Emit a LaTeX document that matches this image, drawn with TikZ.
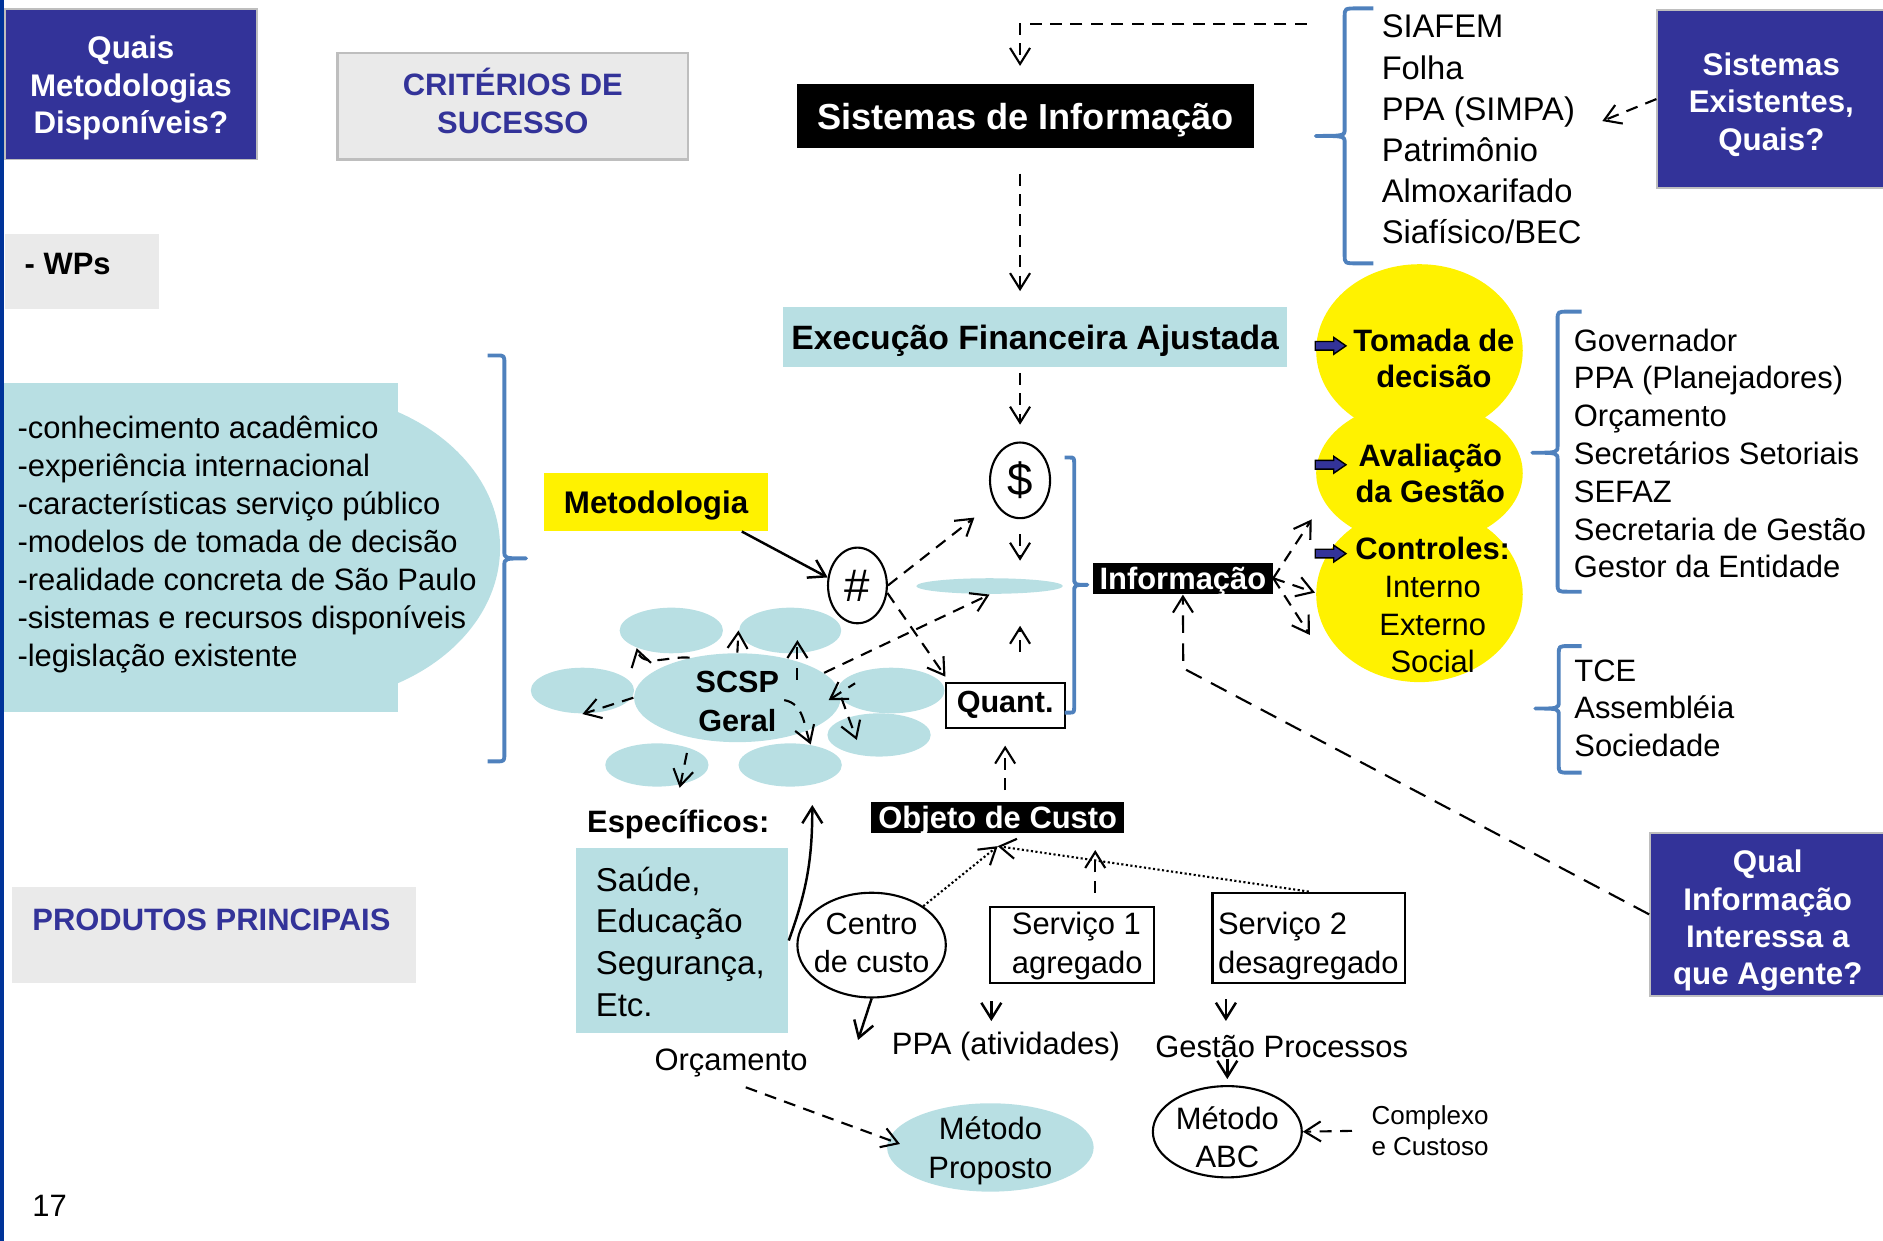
\documentclass[tikz,border=0pt]{standalone}
\usepackage{fontspec}
\setmainfont{Liberation Sans}
\usetikzlibrary{arrows.meta,shapes.geometric}

\definecolor{navy}{RGB}{51,51,153}
\definecolor{barblue}{RGB}{0,51,153}
\definecolor{palegray}{RGB}{234,234,234}
\definecolor{framegray}{RGB}{190,190,190}
\definecolor{paleblue}{RGB}{184,223,227}
\definecolor{braceblue}{RGB}{79,129,189}

\newcommand{\pxu}{0.12009mm}
\newcommand{\fsz}[2]{\fontsize{#1}{#2}\selectfont}

\tikzset{
  txt/.style={inner sep=0pt, text depth=0pt, align=left, font=\fsz{8.8}{10.8}},
  btxt/.style={inner sep=0pt, text depth=0pt, align=center, font=\bfseries\fsz{8.8}{10.8}},
  navybox/.style={fill=navy, draw=framegray, line width=0.5pt, inner sep=0pt},
  wtxt/.style={btxt, text=white, font=\bfseries\fsz{8.9}{10.7}},
  graybox/.style={fill=palegray, inner sep=0pt},
  blackbox/.style={fill=black, text=white, inner sep=0pt, text depth=0pt, font=\bfseries\fsz{8.8}{10.8}},
  blob/.style={ellipse, fill=paleblue, inner sep=0pt},
  ring/.style={ellipse, draw=black, line width=0.6pt, fill=white, inner sep=0pt},
  whitebox/.style={draw=black, line width=0.6pt, fill=white, inner sep=0pt, text depth=0pt},
  barbtip/.style={-{Straight Barb[length=1.6mm,width=2mm]}},
  linearrow/.style={barbtip, line width=0.7pt},
  dasharrow/.style={barbtip, line width=0.6pt, dash pattern=on 3.4pt off 2.4pt},
  dotarrow/.style={barbtip, line width=0.6pt, dash pattern=on 0.6pt off 0.7pt},
  bracepen/.style={draw=braceblue, line width=1.1pt, line join=round}
}

% brace: spine x, top y, tip y, bottom y, hook dx, tip dx
\newcommand{\sidebrace}[6]{%
  \draw[bracepen] ({#1+#5},#2) -- ({#1+0.45*#5},#2) .. controls (#1,#2) .. (#1,{#2+7})
    -- (#1,{#3-6}) .. controls (#1,#3) .. ({#1+#6},#3)
    .. controls (#1,#3) .. (#1,{#3+6})
    -- (#1,{#4-7}) .. controls (#1,#4) .. ({#1+0.45*#5},#4) -- ({#1+#5},#4);}

% block arrow pointing right, centred at x,y
\newcommand{\pointer}[2]{%
  \filldraw[fill=navy, draw=black, line width=0.4pt] ({#1-12.8},{#2-3.6}) -- ({#1+2.6},{#2-3.6})
    -- ({#1+2.6},{#2-7}) -- ({#1+12.8},#2) -- ({#1+2.6},{#2+7}) -- ({#1+2.6},{#2+3.6})
    -- ({#1-12.8},{#2+3.6}) -- cycle;}

\begin{document}
\begin{tikzpicture}[x=0.12009mm, y=-0.12009mm]
\useasboundingbox (0,0) rectangle (1568,1033);

% left margin bar
\fill[barblue] (0,0) rectangle (3.5,1033);

% boxes on the left
\node[navybox, minimum width=210*\pxu, minimum height=125*\pxu] (quais) at (109,70.3) {};
\node[wtxt] (quaistxt) at (109,70.6) {Quais\\Metodologias\\Disponíveis?};
\node[graybox, draw=framegray, line width=0.7pt, minimum width=291.7*\pxu, minimum height=88.3*\pxu] (crit) at (427,88.5) {};
\node[btxt, text=navy, font=\bfseries\fsz{8.8}{10.9}] (crittxt) at (427,84) {CRITÉRIOS DE\\SUCESSO};
\node[graybox, minimum width=129*\pxu, minimum height=62*\pxu] (wpsbox) at (68.3,225.9) {};
\node[btxt, anchor=west] (wps) at (20,219.8) {- WPs};
\node[graybox, minimum width=336.4*\pxu, minimum height=79.4*\pxu] (prodbox) at (178.2,778.6) {};
\node[btxt, anchor=west, text=navy] (prod) at (26.4,765.5) {PRODUTOS PRINCIPAIS};
\node[txt, anchor=west] (page) at (26.4,1004) {17};

% sources of the methodology
\fill[paleblue] (3.5,319) rectangle (331,593);
\fill[paleblue] (250,456) ellipse [x radius=166.4, y radius=129.4];
\node[txt, anchor=west] (sources) at (14,451) {-conhecimento acadêmico\\-experiência internacional\\-características serviço público\\-modelos de tomada de decisão\\-realidade concreta de São Paulo\\-sistemas e recursos disponíveis\\-legislação existente};
\sidebrace{420}{296}{465}{634}{-14}{18}

% central column
\node[blackbox, font=\bfseries\fsz{10.3}{12}, minimum width=381*\pxu, minimum height=53*\pxu] (sis) at (854,96.5) {Sistemas de Informação};
\node[fill=paleblue, inner sep=0pt, text depth=0pt, font=\bfseries\fsz{9.6}{11}, minimum width=420*\pxu, minimum height=50*\pxu] (exec) at (862,281) {Execução Financeira Ajustada};
\node[ring, font=\fsz{13}{15}, minimum width=50*\pxu, minimum height=63*\pxu] (dollar) at (849.4,400) {\$};
\node[blob, minimum width=122*\pxu, minimum height=13*\pxu] (flat) at (824,488) {};
\node[whitebox, minimum width=99*\pxu, minimum height=38*\pxu] (quant) at (837,587.5) {};
\node[btxt, font=\bfseries\fsz{8.7}{10}] (quanttxt) at (837,584.5) {Quant.};
\node[ring, font=\fsz{13}{15}, minimum width=49*\pxu, minimum height=63*\pxu] (hash) at (714,487.5) {\#};
\node[fill=yellow, inner sep=0pt, text depth=0pt, font=\bfseries\fsz{8.9}{10}, minimum width=186.5*\pxu, minimum height=48*\pxu] (metod) at (546.3,418) {Metodologia};
\sidebrace{894.5}{381}{487}{593.4}{-8}{11}
\node[blackbox, minimum width=149.3*\pxu, minimum height=26.1*\pxu] (info) at (985,481.5) {Informação};

% SCSP and the areas round it
\node[blob, minimum width=86*\pxu, minimum height=38*\pxu] (tl) at (559,525) {};
\node[blob, minimum width=85*\pxu, minimum height=38*\pxu] (tr) at (658,525) {};
\node[blob, minimum width=86*\pxu, minimum height=38*\pxu] (lf) at (485,575) {};
\node[blob, minimum width=89*\pxu, minimum height=38*\pxu] (ru) at (742,575) {};
\node[blob, minimum width=86*\pxu, minimum height=36*\pxu] (rl) at (732,612) {};
\node[blob, minimum width=86*\pxu, minimum height=36*\pxu] (bl) at (547,637) {};
\node[blob, minimum width=86*\pxu, minimum height=36*\pxu] (br) at (658,637) {};
\node[blob, minimum width=172*\pxu, minimum height=74*\pxu] (scsp) at (614,581) {};
\node[btxt, font=\bfseries\fsz{8.7}{10.9}] (scsptxt) at (614,584) {SCSP\\Geral};

% specific areas and cost objects
\node[btxt] (espec) at (564.8,684) {Específicos:};
\node[fill=paleblue, inner sep=0pt, minimum width=176.6*\pxu, minimum height=153.6*\pxu] (saudebox) at (567.9,783.2) {};
\node[txt, anchor=west, font=\fsz{9.4}{11.85}] (saude) at (495.5,784) {Saúde,\\Educação\\Segurança,\\Etc.};
\node[txt] (orc) at (608.8,882.7) {Orçamento};
\node[blackbox, minimum width=210.5*\pxu, minimum height=26.4*\pxu] (objeto) at (830.8,680.8) {Objeto de Custo};
\node[ring, minimum width=123.6*\pxu, minimum height=87.2*\pxu] (centro) at (725.8,787) {};
\node[txt, align=center, font=\fsz{8.7}{10.9}] (centrotxt) at (725.8,785) {Centro\\de custo};
\node[whitebox, minimum width=136.5*\pxu, minimum height=62.8*\pxu] (serv1) at (892.8,786.9) {};
\node[txt, font=\fsz{8.8}{10.9}, anchor=west] (serv1txt) at (842,785) {Serviço 1\\agregado};
\node[whitebox, minimum width=160.4*\pxu, minimum height=75*\pxu] (serv2) at (1089.8,780.8) {};
\node[txt, font=\fsz{8.8}{10.9}, anchor=west] (serv2txt) at (1013.7,785) {Serviço 2\\desagregado};
\node[txt] (ppa) at (837.7,868.8) {PPA (atividades)};
\node[txt] (gestao) at (1067.3,871.6) {Gestão Processos};
\node[blob, minimum width=172*\pxu, minimum height=73.6*\pxu] (proposto) at (824.7,955.5) {};
\node[txt, align=center, font=\fsz{8.8}{11.1}] (propostotxt) at (824.7,955.3) {Método\\Proposto};
\node[ring, minimum width=124*\pxu, minimum height=76*\pxu] (abc) at (1022,942.4) {};
\node[txt, align=center, font=\fsz{8.8}{10.9}] (abctxt) at (1022,947) {Método\\ABC};
\node[txt, anchor=west, font=\fsz{7.4}{8.8}] (complexo) at (1141.5,941.4) {Complexo\\e Custoso};

% users of the information
\fill[yellow] (1182,292) ellipse [x radius=86, y radius=72];
\fill[yellow] (1182,394) ellipse [x radius=86, y radius=60];
\fill[yellow] (1182,495) ellipse [x radius=86, y radius=73];
\node[btxt, font=\bfseries\fsz{8.8}{10.45}] (tomada) at (1194,298.4) {Tomada de\\decisão};
\node[btxt, font=\bfseries\fsz{8.8}{10.4}] (aval) at (1191,394.2) {Avaliação\\da Gestão};
\node[txt, align=center, font=\fsz{8.8}{10.75}] (contr) at (1193,503.8) {\textbf{Controles:}\\Interno\\Externo\\Social};
\pointer{1108}{288}
\pointer{1108}{387}
\pointer{1108}{461}

% lists on the right
\node[txt, anchor=west, font=\fsz{9.3}{11.68}] (syslist) at (1150,107.6) {SIAFEM\\Folha\\PPA (SIMPA)\\Patrimônio\\Almoxarifado\\Siafísico/BEC};
\sidebrace{1119.7}{7}{113.2}{219.3}{24}{-24}
\node[txt, anchor=west, font=\fsz{8.8}{10.75}] (agents) at (1310,377.5) {Governador\\PPA (Planejadores)\\Orçamento\\Secretários Setoriais\\SEFAZ\\Secretaria de Gestão\\Gestor da Entidade};
\sidebrace{1297}{259.5}{377}{492.7}{20}{-21}
\node[txt, anchor=west, font=\fsz{8.8}{10.65}] (ctrllist) at (1310.4,589.4) {TCE\\Assembléia\\Sociedade};
\sidebrace{1298}{538}{590}{643.4}{19}{-19.5}
\node[navybox, minimum width=190*\pxu, minimum height=148.5*\pxu] (sisex) at (1475,82.5) {};
\node[wtxt, font=\bfseries\fsz{8.9}{10.67}] (sisextxt) at (1475,84.5) {Sistemas\\Existentes,\\Quais?};
\node[navybox, minimum width=196*\pxu, minimum height=136*\pxu] (qual) at (1472,761.4) {};
\node[wtxt, font=\bfseries\fsz{8.9}{10.6}] (qualtxt) at (1472,764) {Qual\\Informação\\Interessa a\\que Agente?};

% free ends and bends
\coordinate (sysin) at (1088,20);
\coordinate (ocin) at ([yshift=-10*\pxu]objeto.south);
\coordinate (s1up) at (912,743.3);
\coordinate (ccdown) at (714.5,866);
\coordinate (orcout) at (621,905.4);
\coordinate (propin) at (749.4,952.6);
\coordinate (saudeup) at (676.4,670.3);
\coordinate (qbend) at (985.3,556.5);
\coordinate (y1) at (1092.3,432.5);
\coordinate (y2) at (1095,493.5);
\coordinate (y3) at (1090.8,528.8);
\coordinate (g1) at (664,566);
\coordinate (g2) at (653,583);
\coordinate (g3) at (690,583);
\coordinate (g4) at (712,569);
\coordinate (g5) at (713.5,616.2);
\coordinate (g6) at (572,627);

% flow down the centre
\draw[dasharrow, shorten >=14.5*\pxu] (sysin) -| (sis.north -| dollar);
\draw[dasharrow, shorten <=21*\pxu, shorten >=13*\pxu] (sis.south -| dollar) -- (exec.north -| dollar);
\draw[dasharrow, shorten <=4*\pxu, shorten >=14*\pxu] (exec.south -| dollar) -- (dollar.north);
\draw[dasharrow, shorten <=12.5*\pxu, shorten >=14*\pxu] (dollar.south) -- (flat.north -| dollar);
\draw[dasharrow, shorten <=24.5*\pxu, shorten >=26*\pxu] (quant.north -| dollar) -- (flat.south -| dollar);
\draw[dasharrow, shorten <=9*\pxu, shorten >=13.5*\pxu] (objeto.north -| quant) -- (quant.south);
\draw[dasharrow, shorten >=18*\pxu] (sisex.west) -- (syslist.east);

% methodology
\draw[linearrow] (metod.-19.4) -- (hash.165);
\draw[dasharrow, shorten >=21*\pxu] (hash.east) -- (dollar.220);
\draw[dasharrow, shorten >=5*\pxu] (hash.-14) -- (quant.157);
\draw[dasharrow] (scsp.16) -- (flat.south);
\draw[dasharrow] (scsp.140) to[out=175,in=-75] (tl.207);
\draw[dasharrow] (scsp.north) -- (tr.west);
\draw[dasharrow] (g1) -- ++(0,-33);
\draw[dasharrow] (scsp.west) -- (lf.south);
\draw[dasharrow] (g2) to[out=-10,in=110] (br.45);
\draw[dasharrow, {Straight Barb[length=1.6mm,width=2mm]}-] (g3) -- (g4);
\draw[dasharrow] (scsp.east) -- (g5);
\draw[dasharrow] (g6) -- ++(-6,29);

% cost objects
\draw[linearrow] (saudebox.east) to[out=70,in=-90] (saudeup);
\draw[dotarrow] (centro.37) -- (ocin);
\draw[dotarrow] (serv2.north) -- (ocin);
\draw[dasharrow] (s1up) -- ++(0,-35.5);
\draw[linearrow] (centro.south) -- (ccdown);
\draw[linearrow] ([xshift=1.8*\pxu, yshift=-14.4*\pxu]serv1.south west) -- ++(0,16.7);
\draw[linearrow] ([xshift=12.1*\pxu, yshift=-13*\pxu]serv2.south west) -- ++(0,18);
\draw[linearrow, shorten >=5*\pxu] (gestao.south -| abc) -- (abc.north);
\draw[dasharrow, shorten <=15.7*\pxu] (complexo.west) -- (abc.east);
\draw[dasharrow] (orcout) -- (propin);

% information and its users
\foreach \t in {y1,y2,y3}
  \draw[dasharrow] (info.east) -- (\t);
\draw[dasharrow, dash pattern=on 5pt off 3pt] (qual.west) -- (qbend) -- (info.south);
\end{tikzpicture}
\end{document}
